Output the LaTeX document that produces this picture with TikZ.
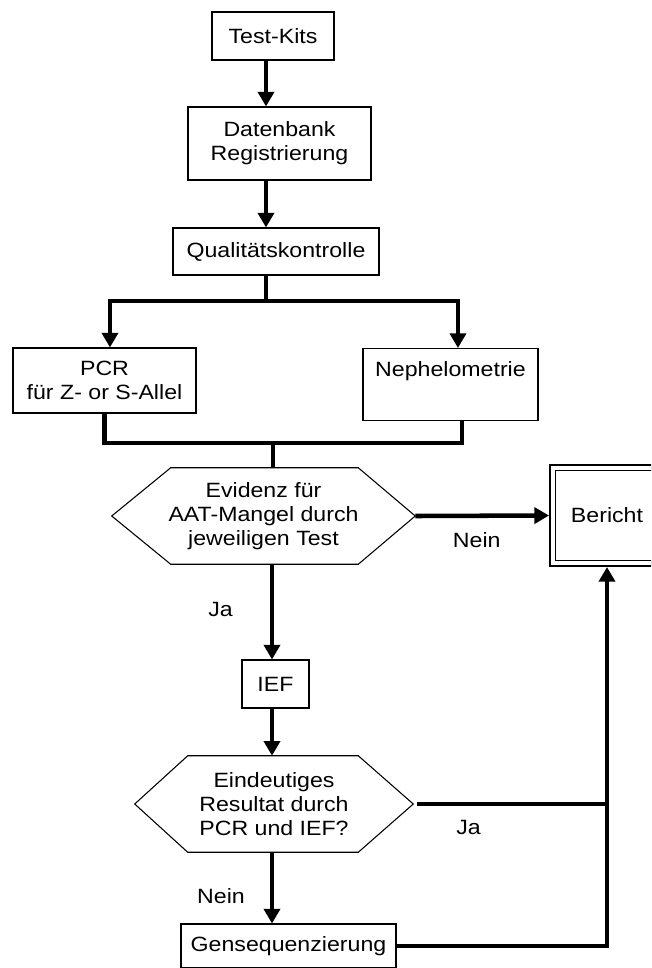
\documentclass[tikz,border=0pt]{standalone}
\usepackage{fontspec}
\setmainfont{Liberation Sans}[FakeStretch=1.12]
\usetikzlibrary{arrows.meta}

\newcommand*{\pagew}{651}
\newcommand*{\pageh}{968}

\begin{document}
\begin{tikzpicture}
[
	x=0.75pt, y=-0.75pt,
	font={\fontsize{15.5pt}{18pt}\selectfont},
	procbox/.style={rectangle,draw,line width=0.8pt,align=center,inner sep=2pt},
	decision/.style={rectangle,align=center,inner sep=0pt,minimum height=72pt},
	hexline/.style={line width=0.8pt,line join=miter},
	flow/.style={line width=3.4pt},
	arr/.style={flow,-{Triangle[length=11pt,width=12pt]}},
	lbl/.style={inner sep=2pt}
]

	% page
	\useasboundingbox (0,0) rectangle (\pagew,\pageh);
	\clip (0,0) rectangle (\pagew,\pageh);

	% boxes
	\node[procbox,minimum width=91.5pt,minimum height=36pt] (kits) at (273,36) {Test-Kits};
	\node[procbox,minimum width=137.25pt,minimum height=54.75pt] (dbreg) at (279.5,143.5) {Datenbank\\Registrierung};
	\node[procbox,minimum width=154.5pt,minimum height=35.25pt] (qc) at (276,251.5) {Qualitätskontrolle};
	\node[procbox,minimum width=137.25pt,minimum height=48.75pt] (pcr) at (104.5,380.5) {PCR\\für Z- or S-Allel};
	\node[procbox,anchor=north,inner sep=0pt,text width=131.25pt,text height=21pt,text depth=33pt] (neph) at (450.5,348) {Nephelometrie};
	\node[decision,minimum width=227.25pt] (eviden) at (263.5,516) {Evidenz für\\AAT-Mangel durch\\jeweiligen Test};
	\node[procbox,minimum width=50.25pt,minimum height=36pt] (ief) at (275.5,684) {IEF};
	\node[decision,minimum width=208.5pt] (eind) at (274,804) {Eindeutiges\\Resultat durch\\PCR und IEF?};
	\node[procbox,minimum width=161.25pt,minimum height=33pt] (gens) at (288.5,946) {Gensequenzierung};
	\node[procbox,double,double distance=3pt,line width=1.2pt,outer sep=2.7pt,minimum width=81.6pt,minimum height=71.9pt] (bericht) at (607,515.5) {Bericht};

	% hexagons
	\draw[hexline] (eviden.west) -- ([xshift=44.25pt]eviden.north west) -- ([xshift=-42.75pt]eviden.north east)
		-- (eviden.east) -- ([xshift=-42.75pt]eviden.south east) -- ([xshift=44.25pt]eviden.south west) -- cycle;
	\draw[hexline] (eind.west) -- ([xshift=39.75pt]eind.north west) -- ([xshift=-41.25pt]eind.north east)
		-- (eind.east) -- ([xshift=-41.25pt]eind.south east) -- ([xshift=39.75pt]eind.south west) -- cycle;

	% connectors
	\coordinate (upper) at (266,0);
	\coordinate (lower) at (272,0);
	\coordinate (split) at (266,301);
	\coordinate (merge) at (273,443);

	\draw[arr] (kits.south -| upper) -- (dbreg.north -| upper);
	\draw[arr] (dbreg.south -| upper) -- (qc.north -| upper);
	\draw[flow] (qc.south -| upper) -- (split);
	\draw[arr] (split) -| ([xshift=4.1pt]pcr.north);
	\draw[arr] (split) -| ([xshift=5.6pt]neph.north);
	\draw[flow] (pcr.south) |- (merge) -| ([xshift=8.6pt]neph.south);
	\draw[flow] (merge) -- (merge |- eviden.north);

	\draw[arr] (eviden.east) -- node[lbl,pos=0.46,below=8.8pt] {Nein} (bericht.west);
	\draw[arr] (eviden.south -| lower) -- node[lbl,pos=0.48,left=25.7pt] {Ja} (ief.north -| lower);
	\draw[arr] (ief.south -| lower) -- (eind.north -| lower);
	\draw[flow] ([xshift=3pt]eind.east) -- node[lbl,pos=0.27,below=8.8pt] {Ja} (eind.east -| bericht.south);
	\draw[arr] (eind.south -| lower) -- node[lbl,pos=0.61,left=16.7pt] {Nein} (gens.north -| lower);
	\draw[arr] (gens.east) -| (bericht.south);

\end{tikzpicture}
\end{document}
